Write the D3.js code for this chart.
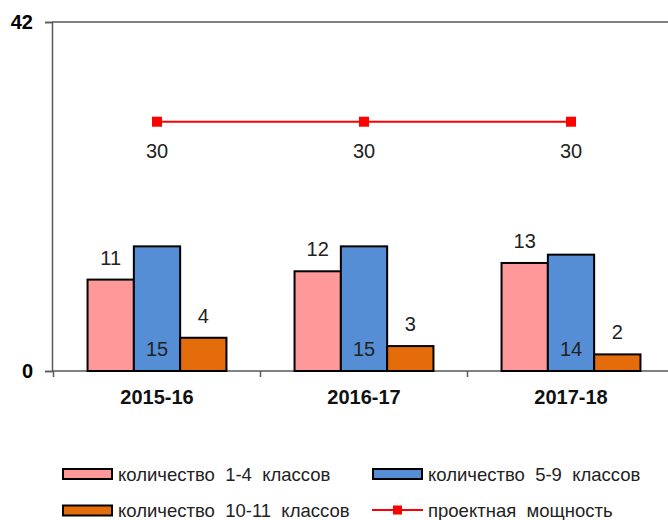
<!DOCTYPE html>
<html><head><meta charset="utf-8">
<script src="https://cdn.jsdelivr.net/npm/d3@7"></script>
<style>body{margin:0;background:#fff}svg{display:block;font-family:"Liberation Sans",Arial,sans-serif}</style>
</head><body><svg id="c" width="668" height="520"></svg>
<script>
const categories = ["2015-16", "2016-17", "2017-18"];
const seriesNames = ["количество  1-4  классов", "количество  5-9  классов", "количество  10-11  классов"];
const grades1to4 = [11, 12, 13];
const grades5to9 = [15, 15, 14];
const grades10to11 = [4, 3, 2];
const capacity = [30, 30, 30];
const capacityName = "проектная  мощность";
const yTicks = [0, 42];

const colors = ["#FF9999", "#558ED5", "#E46C0A"];
const svg = d3.select("#c");
const x = d3.scaleBand().domain(categories).range([53.5, 674.5]);
const y = d3.scaleLinear().domain([0, 42]).range([371, 22]);
const barW = 46.3;
const series = [grades1to4, grades5to9, grades10to11];

// frame lines
svg.append("line").attr("x1", 52).attr("x2", 668).attr("y1", y(42)).attr("y2", y(42)).attr("stroke", "#595959").attr("stroke-width", 1.5);
const yAxis = d3.axisLeft(y).tickValues(yTicks).tickSize(7).tickPadding(12);
const gy = svg.append("g").attr("transform", "translate(52,0)").call(yAxis);
gy.select(".domain").attr("stroke", "#595959").attr("stroke-width", 1.5);
gy.selectAll(".tick line").attr("stroke", "#595959").attr("stroke-width", 1.5);
gy.selectAll(".tick text").attr("font-size", 20).attr("font-weight", "bold").attr("fill", "#000").attr("font-family", "Liberation Sans, Arial, sans-serif");

// x axis
svg.append("line").attr("x1", 52).attr("x2", 668).attr("y1", y(0)).attr("y2", y(0)).attr("stroke", "#595959").attr("stroke-width", 1.5);
categories.forEach((c, i) => {
  const bx = x(c);
  svg.append("line").attr("x1", bx).attr("x2", bx).attr("y1", y(0)).attr("y2", y(0) + 6).attr("stroke", "#595959").attr("stroke-width", 1.5);
  svg.append("text").attr("x", bx + x.bandwidth() / 2).attr("y", 404).attr("text-anchor", "middle")
    .attr("font-size", 20).attr("font-weight", "bold").attr("fill", "#111").text(c);
});

// bars
series.forEach((vals, s) => {
  categories.forEach((c, i) => {
    const cx = x(c) + x.bandwidth() / 2;
    const bx = cx - 1.5 * barW + s * barW;
    svg.append("rect").attr("x", bx).attr("y", y(vals[i])).attr("width", barW).attr("height", y(0) - y(vals[i]))
      .attr("fill", colors[s]).attr("stroke", "#000").attr("stroke-width", 2);
    const ly = s === 1 ? y(0) - 15 : y(vals[i]) - 15;
    svg.append("text").attr("x", bx + barW / 2).attr("y", ly).attr("text-anchor", "middle")
      .attr("font-size", 20).attr("fill", "#222").text(vals[i]);
  });
});

// capacity line
const line = d3.line().x((d, i) => x(categories[i]) + x.bandwidth() / 2).y(d => y(d));
svg.append("path").datum(capacity).attr("d", line).attr("fill", "none").attr("stroke", "#FF0000").attr("stroke-width", 2);
capacity.forEach((v, i) => {
  const cx = x(categories[i]) + x.bandwidth() / 2;
  svg.append("rect").attr("x", cx - 5).attr("y", y(v) - 5).attr("width", 10).attr("height", 10).attr("fill", "#FF0000");
  svg.append("text").attr("x", cx).attr("y", y(v) + 36).attr("text-anchor", "middle").attr("font-size", 20).attr("fill", "#222").text(v);
});

// legend
const leg = [
  {type: "bar", name: seriesNames[0], color: colors[0], x: 62, y: 474, ty: 481},
  {type: "bar", name: seriesNames[1], color: colors[1], x: 372, y: 474, ty: 481},
  {type: "bar", name: seriesNames[2], color: colors[2], x: 62, y: 510.5, ty: 517},
  {type: "line", name: capacityName, color: "#FF0000", x: 372, y: 510, ty: 517}
];
leg.forEach(l => {
  if (l.type === "bar") {
    svg.append("rect").attr("x", l.x + 1).attr("y", l.y - 5).attr("width", 49).attr("height", 10).attr("fill", l.color).attr("stroke", "#000").attr("stroke-width", 2);
  } else {
    svg.append("line").attr("x1", l.x).attr("x2", l.x + 51).attr("y1", l.y).attr("y2", l.y).attr("stroke", l.color).attr("stroke-width", 2);
    svg.append("rect").attr("x", l.x + 21).attr("y", l.y - 4.5).attr("width", 9).attr("height", 9).attr("fill", l.color);
  }
  svg.append("text").attr("x", l.x + 56).attr("y", l.ty).attr("font-size", 18.5).attr("fill", "#222")
    .attr("xml:space", "preserve").style("white-space", "pre").text(l.name);
});
</script></body></html>
